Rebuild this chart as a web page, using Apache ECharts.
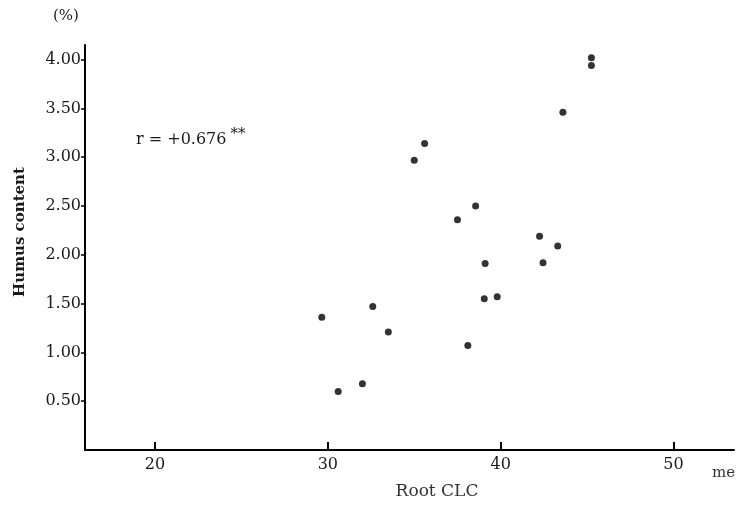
<!DOCTYPE html>
<html>
<head>
<meta charset="utf-8">
<script src="https://cdn.jsdelivr.net/npm/echarts@6/dist/echarts.min.js"></script>
<style>
  html, body { margin: 0; padding: 0; background: #fff; }
  #container { width: 739px; height: 508px; }
</style>
</head>
<body>
<div id="container"></div>
<script>
// Root CEC (me) vs humus content (%)
const rootCec = [45.25, 45.25, 43.6, 35.6, 35.0, 38.55, 37.5, 42.25, 43.3, 39.1, 42.45, 39.05, 39.8, 29.65, 32.6, 33.5, 38.1, 32.0, 30.6];
const humus   = [4.02, 3.94, 3.46, 3.14, 2.97, 2.50, 2.36, 2.19, 2.09, 1.91, 1.92, 1.55, 1.57, 1.36, 1.47, 1.21, 1.07, 0.68, 0.60];
const xTicks = [20, 30, 40, 50];
const yTicks = [0.5, 1.0, 1.5, 2.0, 2.5, 3.0, 3.5, 4.0];

const serif = 'DejaVu Serif';

let dom = document.getElementById('container');
let myChart = echarts.init(dom);

let points = rootCec.map(function (x, i) { return [x, humus[i]]; });

let option = {
  animation: false,
  backgroundColor: '#fff',
  grid: { left: 85, right: 5, top: 45, bottom: 58 },
  xAxis: {
    type: 'value',
    min: 15.95,
    max: 53.5,
    splitLine: { show: false },
    axisLine: { lineStyle: { color: '#000', width: 2 } },
    axisTick: { show: true, inside: true, length: 8, customValues: xTicks, lineStyle: { color: '#000', width: 2 } },
    axisLabel: {
      customValues: xTicks,
      margin: 7,
      color: '#1a1a1a',
      fontFamily: serif,
      fontSize: 16
    }
  },
  yAxis: {
    type: 'value',
    min: 0,
    max: 4.15,
    splitLine: { show: false },
    axisLine: { show: true, lineStyle: { color: '#000', width: 2 } },
    axisTick: { show: true, length: 4, customValues: yTicks, lineStyle: { color: '#000', width: 1.5 } },
    axisLabel: {
      customValues: yTicks,
      margin: 4,
      color: '#1a1a1a',
      fontFamily: serif,
      fontSize: 16,
      formatter: function (v) { return v.toFixed(2); }
    }
  },
  series: [{
    type: 'scatter',
    data: points,
    symbol: 'circle',
    symbolSize: 7,
    itemStyle: { color: '#000' }
  }],
  graphic: {
    elements: [
      {
        type: 'text', left: 53, top: 9,
        style: { text: '(%)', font: '15px "DejaVu Serif"', fill: '#1a1a1a' }
      },
      {
        type: 'text', x: 20, y: 232, rotation: Math.PI / 2,
        style: { text: 'Humus content', font: 'bold 15px "DejaVu Serif"', fill: '#1a1a1a', align: 'center', verticalAlign: 'middle' }
      },
      {
        type: 'text', x: 437, y: 492,
        style: { text: 'Root CLC', font: '17px "DejaVu Serif"', fill: '#333', align: 'center', verticalAlign: 'middle' }
      },
      {
        type: 'text', x: 712, y: 473,
        style: { text: 'me', font: '15px "DejaVu Serif"', fill: '#333', verticalAlign: 'middle' }
      },
      {
        type: 'text', x: 136, y: 140,
        style: {
          text: 'r = +0.676{sup|**}',
          font: '16px "DejaVu Serif"',
          fill: '#1a1a1a',
          verticalAlign: 'middle',
          rich: {
            sup: { fontSize: 15, fontFamily: serif, fill: '#1a1a1a', padding: [0, 0, 12, 4] }
          }
        }
      }
    ]
  }
};

myChart.setOption(option);
</script>
</body>
</html>
